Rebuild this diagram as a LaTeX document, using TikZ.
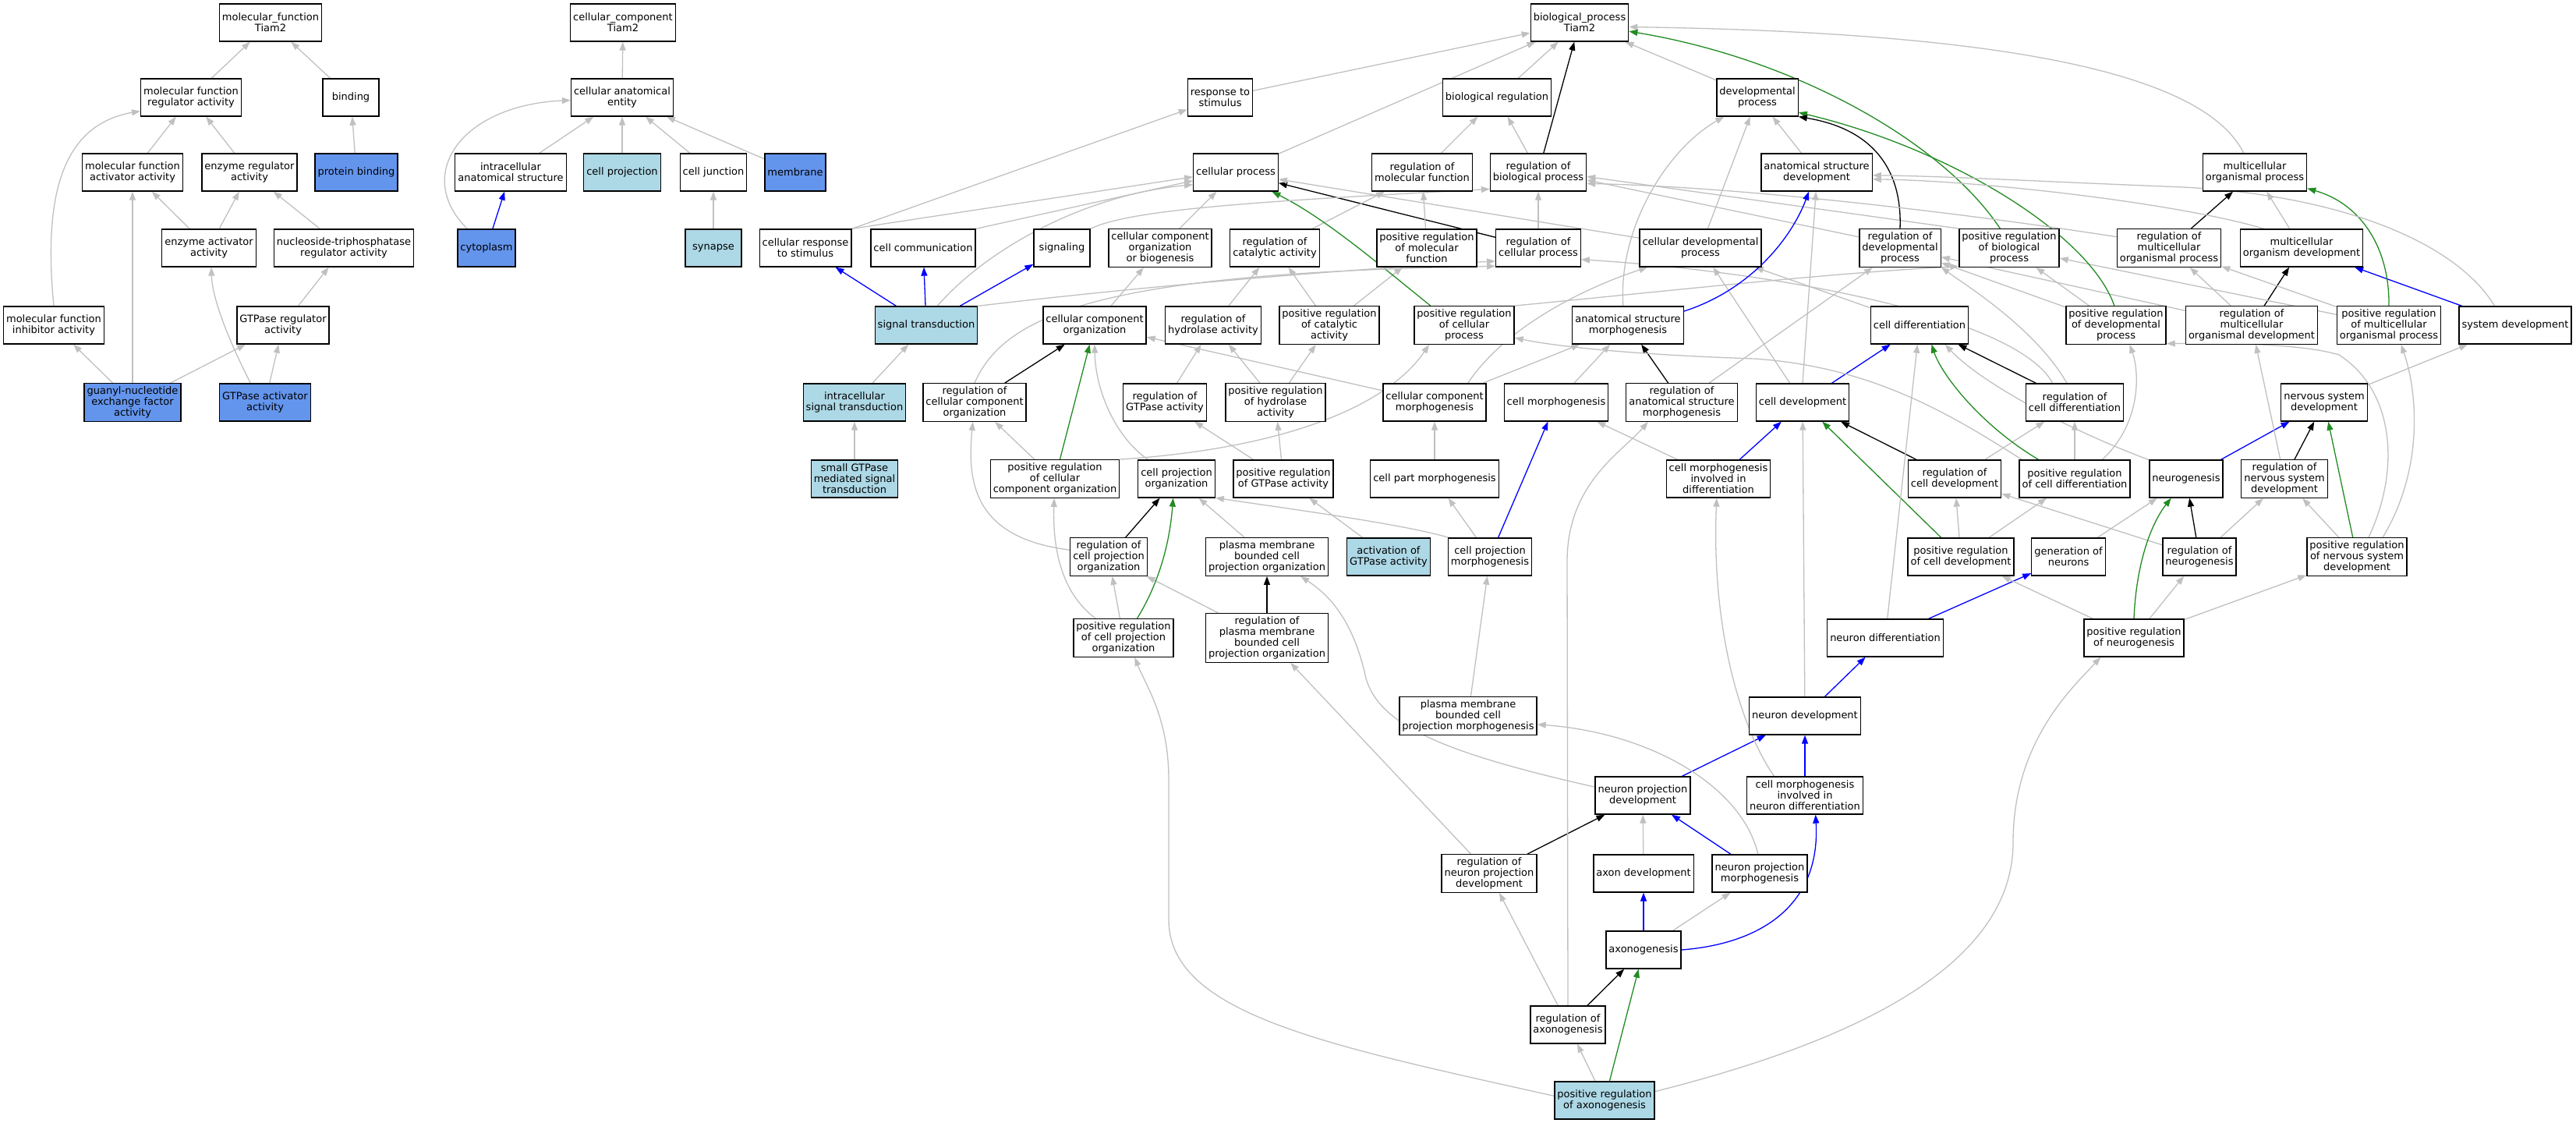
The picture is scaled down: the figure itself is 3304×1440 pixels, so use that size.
\documentclass[tikz,border=0pt]{standalone}
\usepackage{fontspec}
\setmainfont{DejaVu Sans}
\usetikzlibrary{arrows.meta,backgrounds}
\definecolor{egray}{RGB}{192,192,192}
\definecolor{fgreen}{RGB}{34,139,34}
\definecolor{cfblue}{RGB}{100,149,237}
\definecolor{lblue}{RGB}{173,216,230}
\begin{document}
\begin{tikzpicture}[x=1pt,y=-1pt,
  box/.style={draw=black, line width=1.3pt, fill=white, align=center, minimum width=72pt, minimum height=48pt, inner xsep=3.5pt, inner ysep=4pt, font=\fontsize{13pt}{14pt}\selectfont},
  cf/.style={box, fill=cfblue},
  lb/.style={box, fill=lblue},
  ge/.style={draw=egray, line width=1.3pt, -{Triangle[length=11pt,width=8pt]}},
  ke/.style={ge, draw=black},
  be/.style={ge, draw=blue},
  gre/.style={ge, draw=fgreen}]
\useasboundingbox (0,0) rectangle (3304,1440);
% ---------------- molecular function
\node[box] (mfT) at (347,29) {molecular\_function\\Tiam2};
\node[box] (mfreg) at (245,125) {molecular function\\regulator activity};
\node[box] (binding) at (450,125) {binding};
\node[box] (mfact) at (170,221) {molecular function\\activator activity};
\node[box] (enzreg) at (320,221) {enzyme regulator\\activity};
\node[cf] (protbind) at (457,221) {protein binding};
\node[box] (enzact) at (268,318) {enzyme activator\\activity};
\node[box] (ntpreg) at (441,318) {nucleoside-triphosphatase\\regulator activity};
\node[box] (mfinh) at (69,417) {molecular function\\inhibitor activity};
\node[box] (gtpreg) at (363,417) {GTPase regulator\\activity};
\node[cf] (guanyl) at (170,516) {guanyl-nucleotide\\exchange factor\\activity};
\node[cf] (gtpact) at (340,516) {GTPase activator\\activity};
% ---------------- cellular component
\node[box] (ccT) at (799,29) {cellular\_component\\Tiam2};
\node[box] (cae) at (798,125) {cellular anatomical\\entity};
\node[box] (ias) at (655,221) {intracellular\\anatomical structure};
\node[lb] (cellproj) at (798,221) {cell projection};
\node[box] (celljunc) at (915,221) {cell junction};
\node[cf] (membrane) at (1020,221) {membrane};
\node[cf] (cytoplasm) at (624,318) {cytoplasm};
\node[lb] (synapse) at (915,318) {synapse};
% ---------------- biological process
\node[box] (bp) at (2026,29) {biological\_process\\Tiam2};
\node[box] (rts) at (1565,125) {response to\\stimulus};
\node[box] (bioreg) at (1920,125) {biological regulation};
\node[box] (devproc) at (2254,125) {developmental\\process};
\node[box] (cellproc) at (1585,221) {cellular process};
\node[box] (regmf) at (1824,221) {regulation of\\molecular function};
\node[box] (regbp) at (1973,221) {regulation of\\biological process};
\node[box] (asd) at (2330,221) {anatomical structure\\development};
\node[box] (mop) at (2892,221) {multicellular\\organismal process};
\node[box] (cellresp) at (1033,318) {cellular response\\to stimulus};
\node[box] (cellcomm) at (1184,318) {cell communication};
\node[box] (signaling) at (1362,318) {signaling};
\node[box] (ccob) at (1488,318) {cellular component\\organization\\or biogenesis};
\node[box] (regcat) at (1635,318) {regulation of\\catalytic activity};
\node[box] (posregmf) at (1830,318) {positive regulation\\of molecular\\function};
\node[box] (regcp) at (1973,318) {regulation of\\cellular process};
\node[box] (cdp) at (2181,318) {cellular developmental\\process};
\node[box] (regdev) at (2437,318) {regulation of\\developmental\\process};
\node[box] (posregbp) at (2577,318) {positive regulation\\of biological\\process};
\node[box] (regmop) at (2782,318) {regulation of\\multicellular\\organismal process};
\node[box] (mod) at (2952,318) {multicellular\\organism development};
\node[lb] (sigtrans) at (1188,417) {signal transduction};
\node[box] (cco) at (1404,417) {cellular component\\organization};
\node[box] (reghyd) at (1556,417) {regulation of\\hydrolase activity};
\node[box] (posregcat) at (1705,417) {positive regulation\\of catalytic\\activity};
\node[box] (posregcp) at (1878,417) {positive regulation\\of cellular\\process};
\node[box] (asm) at (2088,417) {anatomical structure\\morphogenesis};
\node[box] (celldiff) at (2462,417) {cell differentiation};
\node[box] (posregdev) at (2714,417) {positive regulation\\of developmental\\process};
\node[box] (regmod) at (2888,417) {regulation of\\multicellular\\organismal development};
\node[box] (posregmop) at (3064,417) {positive regulation\\of multicellular\\organismal process};
\node[box] (sysdev) at (3226,417) {system development};
\node[lb] (intrasig) at (1096,516) {intracellular\\signal transduction};
\node[box] (regcco) at (1250,516) {regulation of\\cellular component\\organization};
\node[box] (reggtp) at (1494,516) {regulation of\\GTPase activity};
\node[box] (posreghyd) at (1636,516) {positive regulation\\of hydrolase\\activity};
\node[box] (ccm) at (1840,516) {cellular component\\morphogenesis};
\node[box] (cellmorph) at (1996,516) {cell morphogenesis};
\node[box] (regasm) at (2157,516) {regulation of\\anatomical structure\\morphogenesis};
\node[box] (celldev) at (2312,516) {cell development};
\node[box] (regcd) at (2661,516) {regulation of\\cell differentiation};
\node[box] (nsd) at (2981,516) {nervous system\\development};
\node[lb] (smallgtp) at (1096,614) {small GTPase\\mediated signal\\transduction};
\node[box] (posregcco) at (1353,614) {positive regulation\\of cellular\\component organization};
\node[box] (cpo) at (1509,614) {cell projection\\organization};
\node[box] (posreggtp) at (1646,614) {positive regulation\\of GTPase activity};
\node[box] (cpartm) at (1840,614) {cell part morphogenesis};
\node[box] (cmid) at (2204,614) {cell morphogenesis\\involved in\\differentiation};
\node[box] (regcelldev) at (2507,614) {regulation of\\cell development};
\node[box] (posregcd) at (2661,614) {positive regulation\\of cell differentiation};
\node[box] (neurogen) at (2804,614) {neurogenesis};
\node[box] (regnsd) at (2930,614) {regulation of\\nervous system\\development};
\node[box] (regcpo) at (1422,714) {regulation of\\cell projection\\organization};
\node[box] (pmbcpo) at (1625,714) {plasma membrane\\bounded cell\\projection organization};
\node[lb] (actgtp) at (1781,714) {activation of\\GTPase activity};
\node[box] (cprojm) at (1911,714) {cell projection\\morphogenesis};
\node[box] (posregcelldev) at (2515,714) {positive regulation\\of cell development};
\node[box] (genneur) at (2653,714) {generation of\\neurons};
\node[box] (regneuro) at (2821,714) {regulation of\\neurogenesis};
\node[box] (posregnsd) at (3023,714) {positive regulation\\of nervous system\\development};
\node[box] (posregcpo) at (1441,818) {positive regulation\\of cell projection\\organization};
\node[box] (regpmbcpo) at (1625,818) {regulation of\\plasma membrane\\bounded cell\\projection organization};
\node[box] (neurdiff) at (2418,818) {neuron differentiation};
\node[box] (posregneuro) at (2737,818) {positive regulation\\of neurogenesis};
\node[box] (pmbcpm) at (1883,918) {plasma membrane\\bounded cell\\projection morphogenesis};
\node[box] (neurdev) at (2315,918) {neuron development};
\node[box] (npd) at (2107,1020) {neuron projection\\development};
\node[box] (cmind) at (2315,1020) {cell morphogenesis\\involved in\\neuron differentiation};
\node[box] (regnpd) at (1910,1120) {regulation of\\neuron projection\\development};
\node[box] (axdev) at (2108,1120) {axon development};
\node[box] (npm) at (2257,1120) {neuron projection\\morphogenesis};
\node[box] (axono) at (2108,1218) {axonogenesis};
\node[box] (regaxono) at (2011,1314) {regulation of\\axonogenesis};
\node[lb] (posregaxono) at (2058,1411) {positive regulation\\of axonogenesis};

\begin{scope}[on background layer]
% ---- MF
\draw[ge] (mfreg) -- (mfT);
\draw[ge] (binding) -- (mfT);
\draw[ge] (protbind) -- (binding);
\draw[ge] (mfact) -- (mfreg);
\draw[ge] (enzreg) -- (mfreg);
\draw[ge] (mfinh.north) .. controls (55,250) and (80,160) .. (mfreg.195);
\draw[ge] (enzact) -- (mfact);
\draw[ge] (enzact) -- (enzreg);
\draw[ge] (ntpreg) -- (enzreg);
\draw[ge] (gtpreg) -- (ntpreg);
\draw[ge] (guanyl) -- (mfinh);
\draw[ge] (guanyl.north) -- (mfact.south);
\draw[ge] (guanyl) -- (gtpreg);
\draw[ge] (gtpact) -- (gtpreg);
\draw[ge] (gtpact.127) .. controls (290,430) and (272,380) .. (enzact.-83);
% ---- CC
\draw[ge] (cae) -- (ccT);
\draw[ge] (ias) -- (cae);
\draw[ge] (cellproj) -- (cae);
\draw[ge] (celljunc) -- (cae);
\draw[ge] (membrane) -- (cae);
\draw[be] (cytoplasm) -- (ias);
\draw[ge] (cytoplasm.135) .. controls (530,225) and (590,135) .. (cae.183);
\draw[ge] (synapse) -- (celljunc);
% ---- BP straight
\draw[ge] (rts) -- (bp);
\draw[ge] (cellproc) -- (bp);
\draw[ge] (bioreg) -- (bp);
\draw[ge] (devproc) -- (bp);
\draw[ke] (regbp) -- (bp);
\draw[ge] (regbp) -- (bioreg);
\draw[ge] (regmf) -- (bioreg);
\draw[ge] (posregbp.north west) -- (regbp.-5);
\draw[ge] (regdev.165) -- (regbp.-9);
\draw[ge] (cellresp.north east) -- (rts.200);
\draw[ge] (cellresp.north east) -- (cellproc.186);
\draw[ge] (cellcomm.north east) -- (cellproc.191);
\draw[ge] (ccob) -- (cellproc);
\draw[ke] (regcp) -- (cellproc);
\draw[ge] (regcp) -- (regbp);
\draw[ge] (cdp) -- (cellproc);
\draw[ge] (cdp) -- (devproc);
\draw[ge] (asd) -- (devproc);
\draw[ge] (regcat) -- (regmf);
\draw[ge] (posregmf) -- (regmf);
\draw[ge] (mod) -- (mop);
\draw[ke] (regmop) -- (mop);
\draw[be] (sysdev) -- (mod);
\draw[ke] (regmod) -- (mod);
\draw[ge] (regmod) -- (regmop);
\draw[ge] (posregmop) -- (regmop);
\draw[ge] (posregmop) -- (posregbp);
\draw[ge] (posregdev) -- (posregbp);
\draw[ge] (posregdev) -- (regdev);
\draw[ge] (regmod) -- (regdev);
\draw[be] (sigtrans) -- (cellresp);
\draw[be] (sigtrans) -- (cellcomm);
\draw[be] (sigtrans) -- (signaling);
\draw[ge] (cco) -- (ccob);
\draw[ge] (reghyd) -- (regcat);
\draw[ge] (posregcat) -- (regcat);
\draw[ge] (posregcat) -- (posregmf);
\draw[ge] (intrasig) -- (sigtrans);
\draw[ge] (smallgtp) -- (intrasig);
\draw[ke] (regcco) -- (cco);
\draw[ge] (reggtp) -- (reghyd);
\draw[ge] (posreghyd) -- (reghyd);
\draw[ge] (posreghyd) -- (posregcat);
\draw[ge] (ccm) -- (cco);
\draw[ge] (ccm) -- (asm);
\draw[ge] (cellmorph) -- (asm);
\draw[ke] (regasm) -- (asm);
\draw[ge] (regasm) -- (regdev);
\draw[ge] (celldev) -- (cdp);
\draw[ge] (celldev.north) -- (asd.-92);
\draw[be] (celldev) -- (celldiff);
\draw[ke] (regcd) -- (celldiff);
\draw[ge] (celldiff) -- (cdp);
\draw[ge] (nsd) -- (sysdev);
\draw[gre] (posregcco) -- (cco);
\draw[ge] (posregcco) -- (regcco);
\draw[ge] (posreggtp) -- (reggtp);
\draw[ge] (posreggtp) -- (posreghyd);
\draw[ge] (cpartm) -- (ccm);
\draw[be] (cmid) -- (celldev);
\draw[ge] (cmid) -- (cellmorph);
\draw[ke] (regcelldev) -- (celldev);
\draw[ge] (regcelldev) -- (regcd);
\draw[ge] (posregcd) -- (regcd);
\draw[be] (neurogen) -- (nsd);
\draw[ke] (regnsd) -- (nsd);
\draw[ge] (regnsd) -- (regmod);
\draw[ke] (regcpo) -- (cpo);
\draw[ge] (pmbcpo) -- (cpo);
\draw[ge] (actgtp) -- (posreggtp);
\draw[ge] (cprojm) -- (cpartm);
\draw[be] (cprojm) -- (cellmorph);
\draw[gre] (posregcelldev) -- (celldev);
\draw[ge] (posregcelldev) -- (regcelldev);
\draw[ge] (posregcelldev) -- (posregcd);
\draw[ge] (genneur) -- (neurogen);
\draw[ke] (regneuro) -- (neurogen);
\draw[ge] (regneuro) -- (regnsd);
\draw[ge] (regneuro) -- (regcelldev);
\draw[gre] (posregnsd) -- (nsd);
\draw[ge] (posregnsd) -- (regnsd);
\draw[ge] (posregcpo) -- (regcpo);
\draw[ke] (regpmbcpo) -- (pmbcpo);
\draw[ge] (regpmbcpo) -- (regcpo);
\draw[be] (neurdiff) -- (genneur);
\draw[ge] (neurdiff) -- (celldiff);
\draw[ge] (posregneuro) -- (regneuro);
\draw[ge] (posregneuro) -- (posregnsd);
\draw[ge] (posregneuro) -- (posregcelldev);
\draw[ge] (pmbcpm) -- (cprojm);
\draw[be] (neurdev) -- (neurdiff);
\draw[ge] (neurdev) -- (celldev);
\draw[be] (npd) -- (neurdev);
\draw[be] (cmind) -- (neurdev);
\draw[ke] (regnpd) -- (npd);
\draw[ge] (regnpd) -- (regpmbcpo);
\draw[ge] (axdev) -- (npd);
\draw[be] (npm) -- (npd);
\draw[be] (axono) -- (axdev);
\draw[ge] (axono) -- (npm);
\draw[ke] (regaxono) -- (axono);
\draw[ge] (regaxono) -- (regnpd);
\draw[gre] (posregaxono) -- (axono);
\draw[ge] (posregaxono) -- (regaxono);
% ---- BP curves
\draw[ge] (mop.120) .. controls (2830,100) and (2600,42) .. (bp.-5);
\draw[gre] (posregbp.115) .. controls (2490,180) and (2300,75) .. (bp.-10);
\draw[gre] (posregdev.95) .. controls (2680,300) and (2500,190) .. (devproc.-20);
\draw[ke] (regdev.north) .. controls (2440,215) and (2400,165) .. (devproc.-25);
\draw[gre] (posregcp.150) .. controls (1770,340) and (1700,280) .. (cellproc.-28);
\draw[ge] (sigtrans.60) .. controls (1265,320) and (1390,250) .. (cellproc.196);
\draw[ge] (signaling.north east) .. controls (1450,268) and (1620,258) .. (regbp.199);
\draw[ge] (regcco.north) .. controls (1290,400) and (1420,350) .. (regcp.203);
\draw[ge] (sigtrans.north east) .. controls (1400,375) and (1650,350) .. (regcp.197);
\draw[ge] (regcpo.170) .. controls (1250,690) and (1240,620) .. (regcco.-95);
\draw[ge] (posregcpo.145) .. controls (1360,760) and (1350,700) .. (posregcco.-92);
\draw[ge] (posregaxono.175) .. controls (1700,1340) and (1500,1300) .. (1499,1180) -- (1499,1000) .. controls (1499,920) and (1470,880) .. (posregcpo.-60);
\draw[ge] (posregaxono.10) .. controls (2400,1330) and (2582,1230) .. (2582,1080) .. controls (2582,950) and (2660,880) .. (posregneuro.-150);
\draw[ge] (regaxono.north) -- (2010,720) .. controls (2010,620) and (2080,580) .. (regasm.-150);
\draw[be] (axono.east) .. controls (2260,1210) and (2335,1160) .. (cmind.-61);
\draw[ge] (npm.95) .. controls (2235,1010) and (2120,940) .. (pmbcpm.-7);
\draw[ge] (npd.170) .. controls (1850,965) and (1770,930) .. (1752,870) .. controls (1735,790) and (1700,760) .. (pmbcpo.-30);
\draw[ge] (cmind.148) .. controls (2230,930) and (2195,800) .. (cmid.-95);
\draw[ge] (cprojm.155) .. controls (1800,672) and (1650,652) .. (cpo.-26);
\draw[ge] (cpo.146) .. controls (1430,560) and (1405,500) .. (cco.south);
\draw[ge] (posregcco.north east) .. controls (1650,575) and (1780,520) .. (posregcp.-151);
\draw[ge] (ccm.30) .. controls (1930,420) and (2030,370) .. (cdp.-160);
\draw[ge] (posregcd.160) .. controls (2500,530) and (2400,470) .. (2250,460) .. controls (2100,455) and (2000,445) .. (posregcp.-14);
\draw[ge] (posregcp.north east) .. controls (2150,372) and (2350,350) .. (posregbp.-160);
\draw[ge] (regcd.139) .. controls (2590,410) and (2300,350) .. (regcp.-15);
\draw[ge] (regcd.112) .. controls (2610,420) and (2520,365) .. (regdev.-25);
\draw[ge] (neurogen.153) .. controls (2650,550) and (2540,490) .. (celldiff.-37);
\draw[gre] (posregcd.152) .. controls (2540,545) and (2490,480) .. (celldiff.-58);
\draw[ge] (posregcd.35) .. controls (2745,545) and (2745,480) .. (posregdev.-55);
\draw[ge] (posregnsd.59) .. controls (3080,600) and (3070,500) .. (3000,455) .. controls (2950,440) and (2850,440) .. (posregdev.-20);
\draw[ge] (posregnsd.37) .. controls (3110,600) and (3100,500) .. (posregmop.-58);
\draw[gre] (posregmop.north) .. controls (3065,320) and (3030,262) .. (mop.-17);
\draw[ge] (mod.153) .. controls (2800,262) and (2550,232) .. (asd.-7);
\draw[ge] (sysdev.137) .. controls (3150,310) and (3000,250) .. (2800,240) .. controls (2600,232) and (2500,226) .. (asd.-3);
\draw[ge] (regmop.168) .. controls (2550,278) and (2250,240) .. (regbp.-13);
\draw[be] (asm.14) .. controls (2250,370) and (2300,300) .. (asd.-112);
\draw[ge] (asm.104) .. controls (2075,290) and (2140,190) .. (devproc.-150);
\draw[gre] (posregcpo.55) .. controls (1485,750) and (1500,700) .. (cpo.-100);
\draw[gre] (posregneuro.north) .. controls (2740,720) and (2760,670) .. (neurogen.-128);
\end{scope}
\end{tikzpicture}
\end{document}
